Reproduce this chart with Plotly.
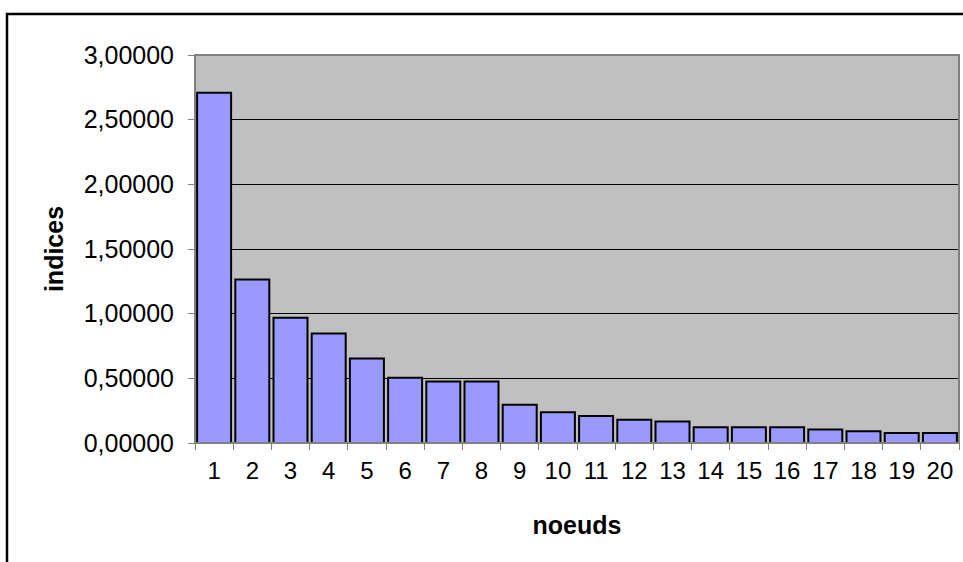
import plotly.graph_objects as go

# Node index values per node
noeuds = [str(i) for i in range(1, 21)]
indices = [2.709, 1.264, 0.968, 0.847, 0.653, 0.505, 0.476, 0.476, 0.296, 0.237,
           0.209, 0.180, 0.166, 0.121, 0.121, 0.121, 0.105, 0.090, 0.077, 0.077]
y_ticks = [0, 0.5, 1.0, 1.5, 2.0, 2.5, 3.0]

W, H = 963, 562
ML, MR, MT, MB = 195, 4, 55, 119
pw, ph = W - ML - MR, H - MT - MB

font_family = "Liberation Sans, Arial, sans-serif"

fig = go.Figure(
    go.Bar(
        x=noeuds,
        y=indices,
        marker=dict(color="#9999FF", line=dict(color="black", width=2)),
    )
)

fig.update_layout(
    width=W,
    height=H,
    margin=dict(l=ML, r=MR, t=MT, b=MB, pad=0),
    paper_bgcolor="white",
    plot_bgcolor="#C0C0C0",
    bargap=0.11,
    separators=", ",
    showlegend=False,
    font=dict(family=font_family, size=24, color="black"),
    xaxis=dict(
        type="category",
        tickson="boundaries",
        ticks="outside",
        ticklen=6,
        tickcolor="#808080",
        tickwidth=1,
        showline=True,
        linecolor="#404040",
        linewidth=1,
        showgrid=False,
        tickfont=dict(size=24),
        ticklabelstandoff=6,
        title=dict(text="<b>noeuds</b>", font=dict(size=25), standoff=33),
    ),
    yaxis=dict(
        range=[0, 3],
        tickvals=y_ticks,
        tickformat=".5f",
        ticks="outside",
        ticklen=6,
        tickcolor="#808080",
        tickwidth=1,
        showline=True,
        linecolor="#404040",
        linewidth=1,
        showgrid=True,
        gridcolor="black",
        gridwidth=1,
        zeroline=False,
        tickfont=dict(size=25),
        ticklabelstandoff=9,
        title=dict(text="<b>indices</b>", font=dict(size=25), standoff=12),
    ),
)

# Plot-area border (top and right edges in gray)
fig.add_shape(
    type="rect", xref="paper", yref="paper", x0=0, x1=1, y0=0, y1=1,
    line=dict(color="#808080", width=2), layer="above",
)

# Outer chart frame, extending past the right and bottom edges
fig.add_shape(
    type="rect", xref="paper", yref="paper",
    x0=(7 - ML) / pw, x1=(W + 20 - ML) / pw,
    y0=(-MB - 20) / ph, y1=(MT - 14) / ph + 1,
    line=dict(color="black", width=2.5),
)

fig.write_html("out.html")
